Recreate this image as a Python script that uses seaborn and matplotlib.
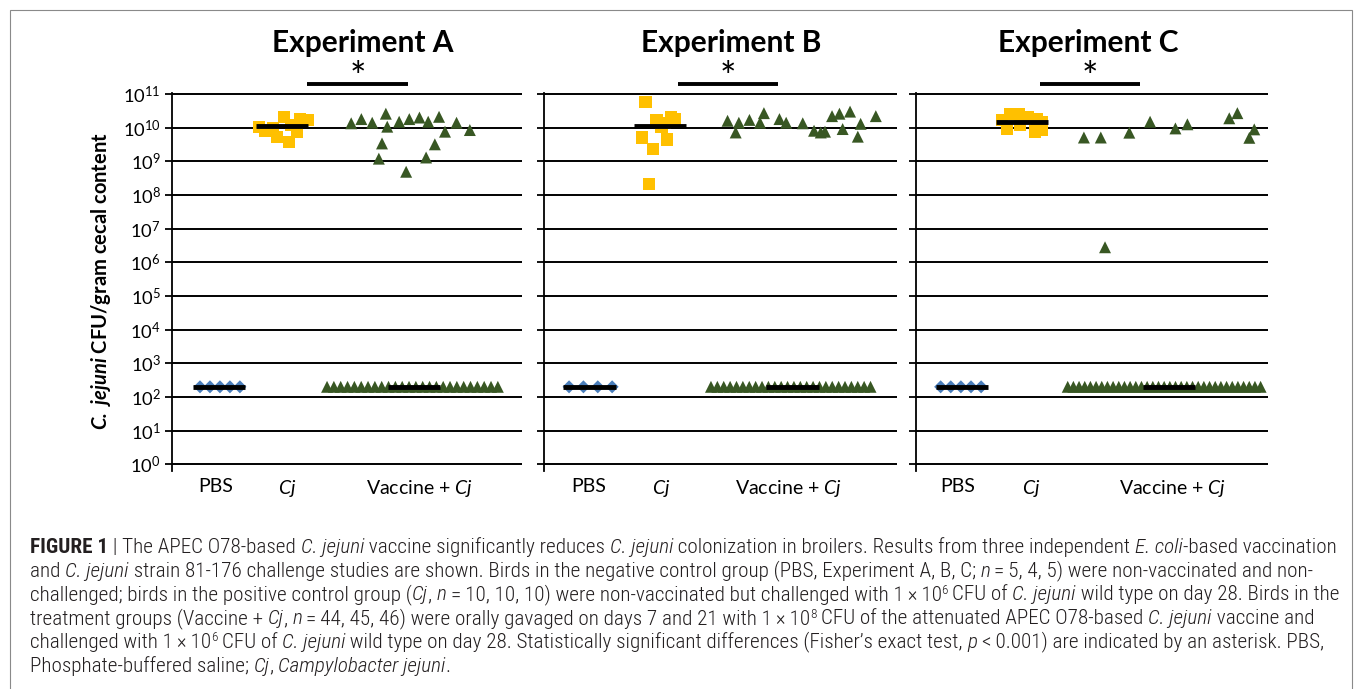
import numpy as np
import pandas as pd
import matplotlib
matplotlib.use("Agg")
import matplotlib.pyplot as plt
import seaborn as sns
from matplotlib import font_manager
from matplotlib.ft2font import FT2Font
from matplotlib.transforms import IdentityTransform
from matplotlib.patches import Rectangle
from matplotlib.ticker import NullLocator

# ---------------- data ----------------
experiments = ["A", "B", "C"]
titles = ["Experiment A", "Experiment B", "Experiment C"]
groups = ["PBS", "Cj", "Vaccine + Cj"]
tick_labels = ["PBS", r"$\mathit{Cj}$", r"Vaccine + $\mathit{Cj}$"]
decades = list(range(0, 12))
ytick_labels = [r"$\mathregular{10^{%d}}$" % k for k in decades]

# negative control (below detection, plotted at detection limit)
pbs_a = [200, 200, 200, 200, 200]
pbs_b = [200, 200, 200, 200]
pbs_c = [200, 200, 200, 200, 200]

# positive control (CFU / g cecal content) and their x jitter
cj_a = [1.05e10, 7.9e9, 9.8e9, 5.2e9, 2.1e10, 3.7e9, 7.4e9, 1.8e10, 1.7e10, 1.2e10]
cj_a_x = [2.49, 2.66, 2.89, 3.00, 3.20, 3.34, 3.57, 3.66, 3.89, 3.40]
cj_b = [5.9e10, 1.7e10, 2.1e10, 1.8e10, 1.07e10, 5.1e9, 4.5e9, 2.3e9, 2.1e8, 1.4e10]
cj_b_x = [2.88, 3.19, 3.59, 3.71, 3.33, 2.77, 3.49, 3.08, 2.98, 3.43]
cj_c = [1.7e10, 2.5e10, 2.5e10, 2.1e10, 1.8e10, 9.5e9, 1.2e10, 7.6e9, 8.5e9, 1.5e10]
cj_c_x = [2.44, 2.67, 2.91, 3.19, 3.43, 2.59, 2.95, 3.38, 3.57, 3.57]

# vaccinated + challenged: colonised birds and their x jitter
vac_a = [1.35e10, 1.8e10, 1.4e10, 2.6e10, 1.07e10, 3.4e9, 1.2e9, 1.5e10, 4.9e8, 1.8e10,
         2.0e10, 1.5e10, 3.2e9, 1.3e9, 2.1e10, 7.6e9, 1.4e10, 8.5e9]
vac_a_x = [5.12, 5.41, 5.72, 6.11, 6.15, 6.00, 5.91, 6.49, 6.69, 6.78,
           7.07, 7.32, 7.51, 7.26, 7.63, 7.80, 8.13, 8.51]
vac_b = [1.6e10, 1.4e10, 7.2e9, 1.7e10, 1.4e10, 2.7e10, 1.8e10, 1.4e10, 1.35e10, 8.1e9,
         7.2e9, 7.6e9, 2.2e10, 2.6e10, 3.0e10, 9.1e9, 1.3e10, 5.4e9, 2.2e10]
vac_b_x = [5.20, 5.52, 5.43, 5.82, 6.12, 6.23, 6.67, 6.86, 7.33, 7.65,
           7.84, 7.96, 8.16, 8.37, 8.67, 8.46, 8.97, 8.89, 9.40]
vac_c = [5.1e9, 5.1e9, 7.1e9, 1.5e10, 9.5e9, 1.26e10, 1.9e10, 2.7e10, 8.9e9, 5.0e9, 2.8e6]
vac_c_x = [4.77, 5.25, 6.06, 6.65, 7.37, 7.71, 8.90, 9.13, 9.61, 9.47, 5.37]

# vaccinated + challenged: birds below detection limit
vac_a_nd = [200] * 26
vac_b_nd = [200] * 26
vac_c_nd = [200] * 35

# medians (horizontal black bars)
pbs_median = [200, 200, 200]
cj_median = [1.12e10, 1.12e10, 1.5e10]
vac_median = [200, 200, 200]

# ---------------- layout (positions only) ----------------
W, H = 1355, 689
axes_left_px = [172, 544, 916]
axes_width_px = [350, 353, 352]
axes_top_px, axes_bottom_px = 93, 471
tick_pos = [[1.26, 3.30, 7.06], [1.27, 3.33, 6.94], [1.18, 3.27, 7.29]]
bar_center = [[1.35, 3.15, 6.92], [1.29, 3.29, 7.04], [1.31, 3.00, 7.19]]
bar_half = 0.74
pbs_span = [(0.80, 1.94), (0.71, 1.93), (0.70, 1.85)]
row_span = [(4.43, 9.31), (4.73, 9.25), (4.31, 9.79)]
sig_span = [(3.86, 6.74), (3.80, 6.63), (3.52, 6.36)]
title_x = [0.546, 0.530, 0.490]

# ---------------- build long table ----------------
pbs_all = [pbs_a, pbs_b, pbs_c]
cj_all = [(cj_a, cj_a_x), (cj_b, cj_b_x), (cj_c, cj_c_x)]
vac_all = [(vac_a, vac_a_x), (vac_b, vac_b_x), (vac_c, vac_c_x)]
nd_all = [vac_a_nd, vac_b_nd, vac_c_nd]
rows = []
for i, e in enumerate(experiments):
    p = pbs_all[i]
    for xv, v in zip(np.linspace(*pbs_span[i], len(p)), p):
        rows.append((e, "PBS", xv, v))
    for v, xv in zip(*cj_all[i]):
        rows.append((e, "Cj", xv, v))
    for v, xv in zip(*vac_all[i]):
        rows.append((e, "Vaccine + Cj", xv, v))
    nd = nd_all[i]
    for xv, v in zip(np.linspace(*row_span[i], len(nd)), nd):
        rows.append((e, "Vaccine + Cj", xv, v))
df = pd.DataFrame(rows, columns=["experiment", "group", "x", "cfu"])

# ---------------- styling ----------------
sns.set_style("white")
avail = {f.name for f in font_manager.fontManager.ttflist}
main_font = "Lato" if "Lato" in avail else "DejaVu Sans"
cap_font = next((f for f in ["Liberation Sans Narrow", "Roboto Condensed", "Roboto", "Liberation Sans"]
                 if f in avail), "DejaVu Sans")
plt.rcParams["font.family"] = [main_font, "DejaVu Sans"]
plt.rcParams["mathtext.fontset"] = "custom"
plt.rcParams["mathtext.rm"] = main_font
plt.rcParams["mathtext.it"] = main_font + ":italic"
plt.rcParams["mathtext.bf"] = main_font + ":bold"
try:
    plt.rcParams["mathtext.bfit"] = main_font + ":italic:bold"
    ylab = r"$\mathbfit{C.\ jejuni}$ CFU/gram cecal content"
except Exception:
    ylab = r"$\mathbf{C.\ jejuni}$ CFU/gram cecal content"

palette = {"PBS": "#4a7ebb", "Cj": "#ffc000", "Vaccine + Cj": "#385723"}
markers = {"PBS": "D", "Cj": "s", "Vaccine + Cj": "^"}
sizes = {"PBS": 44, "Cj": 80, "Vaccine + Cj": 74}

fig = plt.figure(figsize=(W / 100, H / 100), dpi=100)
fig.patch.set_facecolor("white")

for i, e in enumerate(experiments):
    l, w = axes_left_px[i], axes_width_px[i]
    ax = fig.add_axes([l / W, 1 - axes_bottom_px / H, w / W,
                       (axes_bottom_px - axes_top_px) / H])
    sub = df[df.experiment == e]
    sns.scatterplot(data=sub, x="x", y="cfu", hue="group", style="group", size="group",
                    hue_order=groups, style_order=groups, size_order=groups,
                    palette=palette, markers=markers, sizes=sizes, linewidth=0,
                    legend=False, ax=ax, zorder=3)
    ax.set_yscale("log")
    ax.set_ylim(10 ** -0.2, 10 ** 11.03)
    ax.set_xlim(0, 10)
    ax.set_yticks([10.0 ** k for k in decades],
                  labels=ytick_labels if i == 0 else [""] * len(decades))
    ax.yaxis.set_minor_locator(NullLocator())
    ax.set_xticks(tick_pos[i], labels=tick_labels)
    ax.set_xlabel("")
    ax.set_ylabel("")
    for s in ["top", "right", "bottom"]:
        ax.spines[s].set_visible(False)
    ax.spines["left"].set_color("black")
    ax.spines["left"].set_linewidth(1.3)
    ax.grid(axis="y", color="black", lw=1.4)
    ax.grid(axis="x", visible=False)
    ax.set_axisbelow(True)
    ax.tick_params(axis="y", direction="out", length=5, width=1.3, color="black",
                   pad=3, labelsize=13.2, labelcolor="black", left=True)
    ax.tick_params(axis="x", length=0, pad=5, labelsize=14, labelcolor="black")

    # medians
    for c, m in zip(bar_center[i], [pbs_median[i], cj_median[i], vac_median[i]]):
        ax.hlines(m, c - bar_half, c + bar_half, color="black", lw=3.5, zorder=5)

    # significance bar and asterisk
    tr = ax.get_xaxis_transform()
    hpx = axes_bottom_px - axes_top_px
    ysig = (axes_bottom_px - 84) / hpx
    ax.plot(sig_span[i], [ysig, ysig], color="black", lw=2.8, clip_on=False,
            transform=tr, solid_capstyle="butt")
    ax.text(np.mean(sig_span[i]), (axes_bottom_px - 90) / hpx, "*", transform=tr,
            ha="center", va="baseline", fontsize=28, color="black")
    ax.text(title_x[i], (axes_bottom_px - 52) / hpx, titles[i], transform=ax.transAxes,
            ha="center", va="baseline", fontsize=21.5, fontweight="bold", color="black")

fig.text(101, H - 281, ylab, transform=IdentityTransform(), rotation=90,
         ha="center", va="center", fontsize=14.5, fontweight="bold", color="black")

# border
fig.add_artist(Rectangle((9.5, -10), 1342, H - 9.5 + 10, transform=IdentityTransform(),
                         fill=False, edgecolor="#8a8a8a", lw=0.8))

# ---------------- caption ----------------
cap_color = "#231f20"
try:
    cap_path = font_manager.findfont(font_manager.FontProperties(family=cap_font))
    has_thin = 0x2009 in FT2Font(cap_path).get_charmap()
except Exception:
    has_thin = False
ts = "\u2009" if has_thin else ""

caption_lines = [
    [("FIGURE 1", "b"), (" | The APEC O78-based ", "n"), ("C. jejuni", "i"),
     (" vaccine significantly reduces ", "n"), ("C. jejuni", "i"),
     (" colonization in broilers. Results from three independent ", "n"), ("E. coli", "i"),
     ("-based vaccination", "n")],
    [("and ", "n"), ("C. jejuni", "i"),
     (" strain 81-176 challenge studies are shown. Birds in the negative control group (PBS, Experiment A, B, C; ", "n"),
     ("n", "i"), (ts + "=" + ts + "5, 4, 5) were non-vaccinated and non-", "n")],
    [("challenged; birds in the positive control group (", "n"), ("Cj", "i"), (", ", "n"), ("n", "i"),
     (ts + "=" + ts + "10, 10, 10) were non-vaccinated but challenged with 1" + ts + "\u00d7" + ts + "10", "n"),
     ("6", "sup"), (ts + "CFU of ", "n"), ("C. jejuni", "i"), (" wild type on day 28. Birds in the", "n")],
    [("treatment groups (Vaccine + ", "n"), ("Cj", "i"), (", ", "n"), ("n", "i"),
     (ts + "=" + ts + "44, 45, 46) were orally gavaged on days 7 and 21 with 1" + ts + "\u00d7" + ts + "10", "n"),
     ("8", "sup"), (ts + "CFU of the attenuated APEC O78-based ", "n"), ("C. jejuni", "i"),
     (" vaccine and", "n")],
    [("challenged with 1" + ts + "\u00d7" + ts + "10", "n"), ("6", "sup"), (ts + "CFU of ", "n"),
     ("C. jejuni", "i"),
     (" wild type on day 28. Statistically significant differences (Fisher\u2019s exact test, ", "n"),
     ("p", "i"), (ts + "<" + ts + "0.001) are indicated by an asterisk. PBS,", "n")],
    [("Phosphate-buffered saline; ", "n"), ("Cj", "i"), (", ", "n"),
     ("Campylobacter jejuni", "i"), (".", "n")],
]

renderer = fig.canvas.get_renderer()


def seg_kw(style, size):
    kw = dict(family=[cap_font, "DejaVu Sans"], fontsize=size, color=cap_color,
              fontweight="light")
    if style == "b":
        kw["fontweight"] = "bold"
    elif style == "i":
        kw["fontstyle"] = "italic"
    elif style == "sup":
        kw["fontsize"] = size * 0.62
    return kw


def advance(text, kw):
    t1 = fig.text(0, 0, "|" + text + "|", transform=IdentityTransform(), **kw)
    w1 = t1.get_window_extent(renderer).width
    t1.remove()
    t2 = fig.text(0, 0, "||", transform=IdentityTransform(), **kw)
    w2 = t2.get_window_extent(renderer).width
    t2.remove()
    return w1 - w2


def line_width(segs, size):
    return sum(advance(t, seg_kw(s, size)) for t, s in segs)


base = 11.0
cap_size = base * (1333 - 30) / line_width(caption_lines[0], base)

for li, segs in enumerate(caption_lines):
    x = 30.0
    yb = H - (553 + li * 23.7)
    for text, style in segs:
        kw = seg_kw(style, cap_size)
        yy = yb + (cap_size * 0.42 if style == "sup" else 0)
        fig.text(x, yy, text, transform=IdentityTransform(), ha="left", va="baseline", **kw)
        x += advance(text, kw)

fig.savefig("out.png", dpi=100, facecolor="white")
